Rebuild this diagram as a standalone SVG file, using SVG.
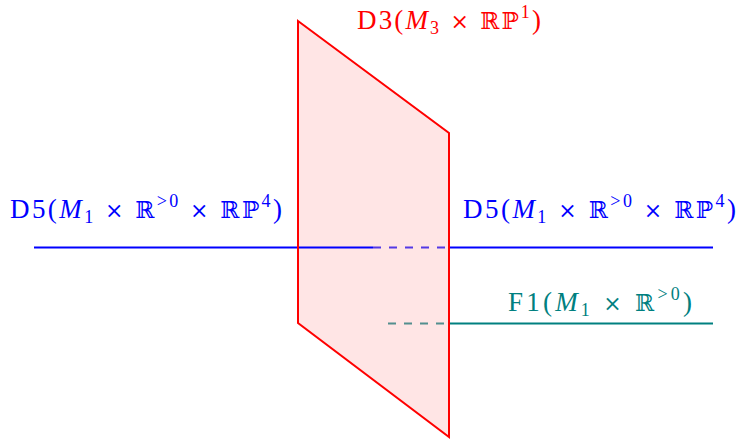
<svg xmlns="http://www.w3.org/2000/svg" width="738" height="439" viewBox="0 0 738 439">
<style>
.lbl{font-family:"Liberation Serif","DejaVu Serif",serif;font-size:27px}
.it{font-style:italic}
.sm{font-size:18px}
.x{font-family:"DejaVu Serif",serif;font-size:22px}
.bb{font-family:"DejaVu Serif","DejaVu Sans",serif;font-size:23px}
.red{fill:#ff0000}
.blue{fill:#0000ff}
.teal{fill:#008080}
</style>
<rect width="738" height="439" fill="#ffffff"/>
<g id="connectors-hidden">
<line x1="373" y1="247.5" x2="449" y2="247.5" stroke="#0000ff" stroke-width="2" stroke-dasharray="8 8" stroke-opacity="0.75"/>
<line x1="388" y1="323.5" x2="449" y2="323.5" stroke="#008080" stroke-width="2" stroke-dasharray="8 8" stroke-opacity="0.75"/>
</g>
<g id="plane">
<polygon points="298,21 449,133 449,437 298,323" fill="#ff0000" fill-opacity="0.1" stroke="none"/>
</g>
<g id="connectors">
<line x1="34" y1="247.5" x2="373" y2="247.5" stroke="#0000ff" stroke-width="2"/>
<line x1="449" y1="247.5" x2="713" y2="247.5" stroke="#0000ff" stroke-width="2"/>
<line x1="449" y1="323.5" x2="713" y2="323.5" stroke="#008080" stroke-width="2"/>
</g>
<g id="plane-edge">
<polygon points="298,21 449,133 449,437 298,323" fill="none" stroke="#ff0000" stroke-width="2" stroke-linejoin="miter"/>
</g>
<g id="label-d3">
<text class="lbl red" x="357" y="29" textLength="184" lengthAdjust="spacing">D3(<tspan class="it">M</tspan><tspan class="sm" dy="5">3</tspan><tspan class="x" dy="-5"> × </tspan><tspan class="bb">ℝℙ</tspan><tspan class="sm" dy="-11">1</tspan><tspan dy="11">)</tspan></text>
</g>
<g id="label-d5-left">
<text class="lbl blue" x="10" y="218" textLength="272" lengthAdjust="spacing">D5(<tspan class="it">M</tspan><tspan class="sm" dy="5">1</tspan><tspan class="x" dy="-5"> × </tspan><tspan class="bb">ℝ</tspan><tspan class="sm" dy="-11">&gt;0</tspan><tspan class="x" dy="11"> × </tspan><tspan class="bb">ℝℙ</tspan><tspan class="sm" dy="-11">4</tspan><tspan dy="11">)</tspan></text>
</g>
<g id="label-d5-right">
<text class="lbl blue" x="463" y="218" textLength="273" lengthAdjust="spacing">D5(<tspan class="it">M</tspan><tspan class="sm" dy="5">1</tspan><tspan class="x" dy="-5"> × </tspan><tspan class="bb">ℝ</tspan><tspan class="sm" dy="-11">&gt;0</tspan><tspan class="x" dy="11"> × </tspan><tspan class="bb">ℝℙ</tspan><tspan class="sm" dy="-11">4</tspan><tspan dy="11">)</tspan></text>
</g>
<g id="label-f1">
<text class="lbl teal" x="508" y="311" textLength="184" lengthAdjust="spacing">F1(<tspan class="it">M</tspan><tspan class="sm" dy="5">1</tspan><tspan class="x" dy="-5"> × </tspan><tspan class="bb">ℝ</tspan><tspan class="sm" dy="-11">&gt;0</tspan><tspan dy="11">)</tspan></text>
</g>
</svg>
